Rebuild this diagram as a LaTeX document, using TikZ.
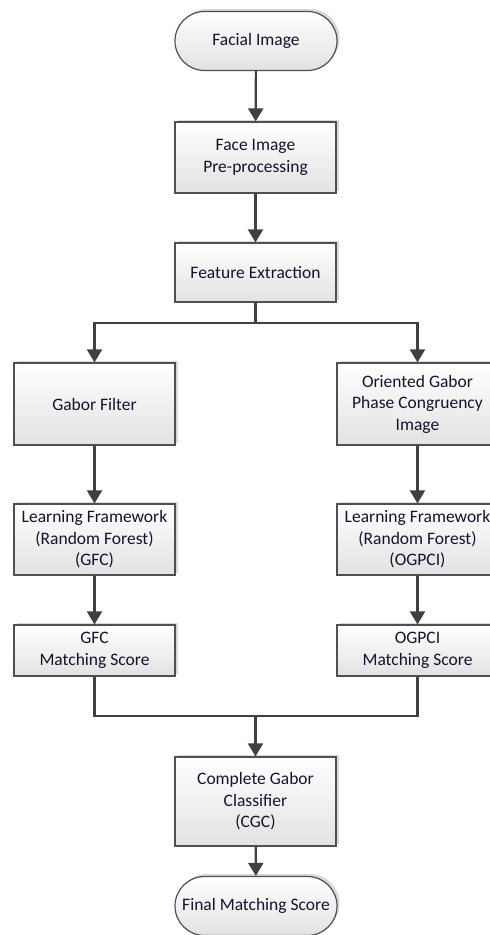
\documentclass[tikz,border=0pt]{standalone}
\usepackage{fontspec}
\setmainfont{Carlito}
\usetikzlibrary{arrows.meta,shapes.misc,shadows}
\definecolor{edgecol}{RGB}{80,80,80}
\definecolor{arrcol}{RGB}{64,64,64}
\definecolor{txtcol}{RGB}{20,20,45}
\definecolor{botcol}{RGB}{226,226,226}
\tikzset{
  base/.style={draw=edgecol, line width=1.2pt, top color=white, bottom color=botcol,
    text=txtcol, font=\fontsize{17.5}{21.5}\selectfont, align=center, inner sep=0pt,
    drop shadow={shadow xshift=2.5pt, shadow yshift=2.5pt, fill=black!25, opacity=0.6}},
  procbox/.style={base, rectangle, minimum width=161pt},
  termbox/.style={base, rounded rectangle, minimum width=162pt, minimum height=59pt},
  flow/.style={draw=arrcol, line width=2.2pt, -{Triangle[length=13pt,width=15pt]}},
  plain/.style={draw=arrcol, line width=2.2pt}
}
\begin{document}
\begin{tikzpicture}[x=1pt,y=-1pt]
\useasboundingbox (0,0) rectangle (490,935);
\clip (0,0) rectangle (490,935);
\node[termbox] (fi) at (256,41) {Facial Image};
\node[procbox, minimum height=71pt] (pre) at (255.5,157.5) {Face Image\\Pre-processing};
\node[procbox, minimum height=59pt] (fe) at (255.5,272.5) {Feature Extraction};
\node[procbox, minimum height=82pt] (gab) at (94.5,404) {Gabor Filter};
\node[procbox, minimum height=82pt] (og) at (417.5,404) {Oriented Gabor\\Phase Congruency\\Image};
\node[procbox, minimum height=71pt] (lf1) at (94.5,539.5) {Learning Framework\\(Random Forest)\\(GFC)};
\node[procbox, minimum height=71pt] (lf2) at (417.5,539.5) {Learning Framework\\(Random Forest)\\(OGPCI)};
\node[procbox, minimum height=51pt] (ms1) at (94.5,650.5) {GFC\\Matching Score};
\node[procbox, minimum height=51pt] (ms2) at (417.5,650.5) {OGPCI\\Matching Score};
\node[procbox, minimum height=89pt] (cgc) at (255.5,801.5) {Complete Gabor\\Classifier\\(CGC)};
\node[termbox] (fin) at (256,906) {Final Matching Score};
\coordinate (split) at (255.5,323);
\coordinate (merge) at (255.5,716);
\draw[flow] (fi) -- (pre);
\draw[flow] (pre) -- (fe);
\draw[plain] (fe) -- (split);
\draw[flow] (split) -| (gab);
\draw[flow] (split) -| (og);
\draw[flow] (gab) -- (lf1);
\draw[flow] (og) -- (lf2);
\draw[flow] (lf1) -- (ms1);
\draw[flow] (lf2) -- (ms2);
\draw[plain] (ms1) |- (merge);
\draw[plain] (ms2) |- (merge);
\draw[flow] (merge) -- (cgc);
\draw[flow] (cgc) -- (fin);
\end{tikzpicture}
\end{document}
